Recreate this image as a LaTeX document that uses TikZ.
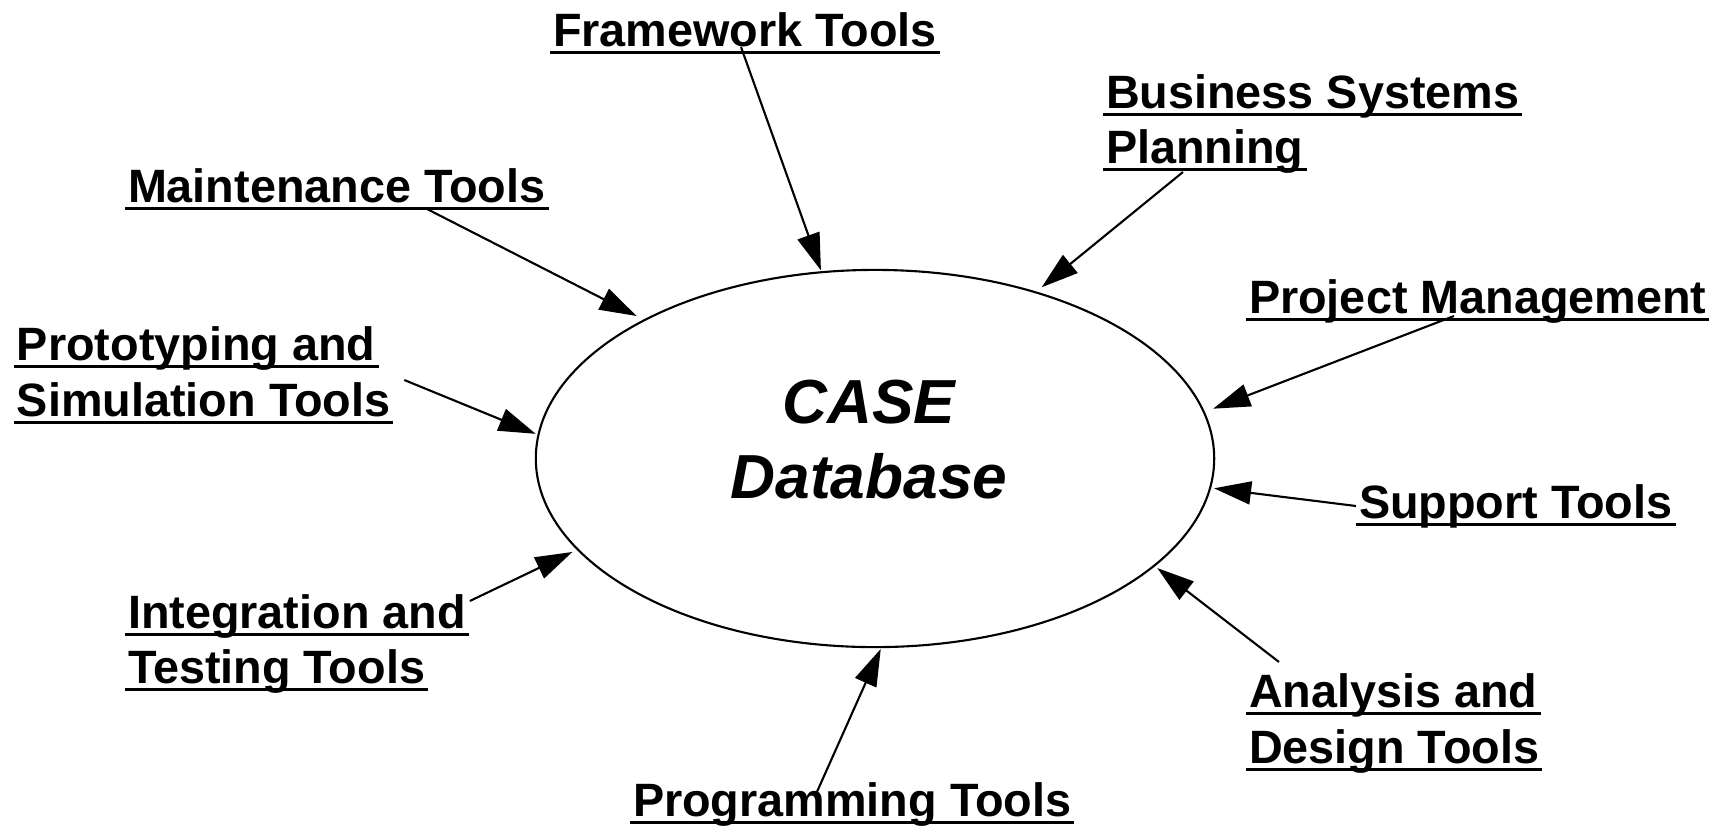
\documentclass[tikz,border=0pt]{standalone}
\usepackage{fontspec}
\setmainfont{Liberation Sans}
\usetikzlibrary{arrows.meta,shapes.geometric}

\begin{document}
\begin{tikzpicture}
[x=0.01cm, y=-0.01cm,
% STYLES
every node/.style={inner sep=0pt, outer sep=0pt},
% The tool style is used to write the underlined name of each tool
tool/.style={anchor=base west, font=\fontsize{13.3}{16}\selectfont\bfseries,
  append after command={([shift={(-3,6.5)}]\tikzlastnode.base west) edge[line width=0.85pt] ([shift={(3,6.5)}]\tikzlastnode.base east)}},
% The store style is used to draw the central ellipse
store/.style={ellipse, draw, line width=0.6pt, minimum width=6.78cm, minimum height=3.77cm},
% The title style is used for the words inside the ellipse
title/.style={anchor=base, font=\fontsize{17.7}{21}\selectfont\bfseries\itshape},
% The link style is used to draw the arrows
link/.style={-{Triangle[length=0.37cm, width=0.23cm]}, line width=0.6pt}]

\useasboundingbox (0,0) rectangle (1725,827);

% Draw the database
\node [store] (db) at (875,458.5) {};
\node [title] (case) at (869,423) {CASE};
\node [title] (database) at (869,498) {Database};

% Draw the tools
\node [tool] (framework) at (553,46) {Framework Tools};
\node [tool] (business) at (1106,108) {Business Systems};
\node [tool] (planning) at (1106,163) {Planning};
\node [tool] (maintenance) at (128,202) {Maintenance Tools};
\node [tool] (prototyping) at (17,360) {Prototyping and};
\node [tool] (simulation) at (17,416) {Simulation Tools};
\node [tool] (project) at (1249,313) {Project Management};
\node [tool] (support) at (1359,518) {Support Tools};
\node [tool] (integration) at (128,628) {Integration and};
\node [tool] (testing) at (128,683) {Testing Tools};
\node [tool] (analysis) at (1249,707) {Analysis and};
\node [tool] (design) at (1249,763) {Design Tools};
\node [tool] (programming) at (633,816) {Programming Tools};

% Draw the links between tools and database
\path[link]
([shift={(188,1)}]framework.base west) edge[shorten >=0.02cm] (db.106.7)
([shift={(77,9)}]planning.base west) edge[shorten >=0.08cm] (db.46.1)
([shift={(299,7)}]maintenance.base west) edge[shorten >=0.09cm] (db.149.7)
([shift={(14,-36)}]simulation.base east) edge[shorten >=0.03cm] (db.176.9)
([shift={(205,3)}]project.base west) edge[shorten >=0.1cm] (db.8.3)
([shift={(-3,-12)}]support.base west) edge[shorten >=0.04cm] (db.-5.6)
([shift={(30,-45)}]analysis.base west) edge[shorten >=0.04cm] (db.-21.7)
([shift={(183,-22)}]programming.base west) edge[shorten >=0.02cm] (db.-88.2)
([shift={(4,-27)}]integration.base east) edge[shorten >=0.06cm] (db.-163);

\end{tikzpicture}
\end{document}
